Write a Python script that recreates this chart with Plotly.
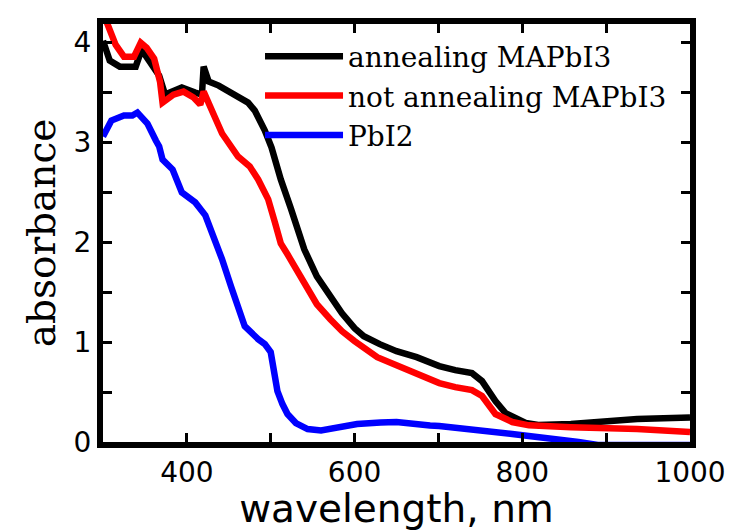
import plotly.graph_objects as go

# ---- data ----
anneal_nm = [300, 308, 320, 339, 346, 359, 367, 374, 394, 410, 418, 420, 426, 438, 457, 473,
             481, 493, 501, 512, 524, 540, 555, 571, 585, 600, 611, 630, 650, 674, 701, 720,
             740, 752, 768, 780, 796, 804, 819, 858, 937, 1000]
anneal_abs = [4.02, 3.82, 3.76, 3.76, 3.93, 3.77, 3.67, 3.48, 3.55, 3.50, 3.48, 3.76, 3.61, 3.57,
              3.48, 3.40, 3.32, 3.12, 2.95, 2.63, 2.34, 1.93, 1.66, 1.45, 1.29, 1.14, 1.06, 0.98,
              0.91, 0.85, 0.76, 0.72, 0.69, 0.61, 0.41, 0.29, 0.23, 0.19, 0.17, 0.18, 0.23, 0.245]

notanneal_nm = [300, 305, 315, 325, 337, 345, 352, 361, 368, 371, 384, 396, 408, 416, 420, 432,
                442, 461, 475, 485, 497, 505, 512, 520, 540, 555, 571, 585, 600, 627, 650, 675,
                701, 720, 740, 752, 768, 788, 808, 858, 937, 1000]
notanneal_abs = [4.30, 4.18, 3.98, 3.86, 3.86, 4.00, 3.95, 3.84, 3.61, 3.40, 3.48, 3.51, 3.45, 3.38,
                 3.51, 3.28, 3.09, 2.86, 2.76, 2.63, 2.43, 2.20, 1.99, 1.88, 1.58, 1.38, 1.23, 1.11,
                 1.01, 0.85, 0.77, 0.68, 0.59, 0.55, 0.52, 0.46, 0.28, 0.20, 0.167, 0.147, 0.13, 0.10]

pbi2_nm = [300, 310, 325, 335, 341, 353, 363, 367, 371, 383, 394, 410, 422, 434, 442, 453, 460,
           469, 485, 493, 500, 504, 508, 514, 520, 530, 544, 560, 580, 603, 631, 650, 690, 701,
           788, 800, 867, 890, 950, 1000]
pbi2_abs = [3.06, 3.22, 3.27, 3.27, 3.30, 3.19, 3.02, 2.96, 2.83, 2.73, 2.50, 2.40, 2.27, 2.01, 1.83,
            1.55, 1.37, 1.16, 1.03, 0.98, 0.90, 0.70, 0.51, 0.38, 0.28, 0.19, 0.13, 0.115, 0.14,
            0.18, 0.196, 0.20, 0.165, 0.16, 0.08, 0.07, 0.0, -0.03, -0.03, -0.03]

series_names = ["annealing MAPbI3", "not annealing MAPbI3", "PbI2"]
series_colors = ["#000000", "#ff0000", "#0000ff"]

x_tickvals = [400, 600, 800, 1000]
y_tickvals = [0, 1, 2, 3, 4]

fig = go.Figure()
for xs, ys, name, col in [
    (anneal_nm, anneal_abs, series_names[0], series_colors[0]),
    (notanneal_nm, notanneal_abs, series_names[1], series_colors[1]),
    (pbi2_nm, pbi2_abs, series_names[2], series_colors[2]),
]:
    fig.add_trace(go.Scatter(x=xs, y=ys, mode="lines", name=name,
                             line=dict(color=col, width=6.5)))

axis_common = dict(
    showgrid=False, zeroline=False, showline=True, linecolor="black", linewidth=6,
    mirror="allticks", ticks="inside", ticklen=9, tickwidth=2.5, tickcolor="black",
    tickfont=dict(family="DejaVu Sans", size=28, color="black"),
)

fig.update_xaxes(
    range=[300, 1000], tickvals=x_tickvals, ticktext=[str(v) for v in x_tickvals],
    minor=dict(dtick=100, tick0=0, ticks="inside", ticklen=9, tickwidth=2.5, tickcolor="black"),
    title=dict(text="wavelength, nm", font=dict(family="DejaVu Sans", size=39, color="black"),
               standoff=5),
    **axis_common,
)
fig.update_yaxes(
    range=[0, 4.187], tickvals=y_tickvals, ticktext=[str(v) for v in y_tickvals],
    minor=dict(dtick=0.5, tick0=0, ticks="inside", ticklen=9, tickwidth=2.5, tickcolor="black"),
    title=dict(text="absorbance", font=dict(family="DejaVu Serif", size=39, color="black"),
               standoff=8),
    **axis_common,
)

# page body has an 8px margin, so the figure is sized 8px smaller each way
fig.update_layout(
    width=729, height=523,
    margin=dict(l=95, r=47, t=10, b=88),
    paper_bgcolor="white", plot_bgcolor="white",
    showlegend=True,
    legend=dict(x=0.2675, y=0.982, xanchor="left", yanchor="top",
                bgcolor="rgba(0,0,0,0)", borderwidth=0, itemwidth=78,
                font=dict(family="DejaVu Serif", size=28, color="black"),
                tracegroupgap=0),
)

fig.write_html("out.html")
